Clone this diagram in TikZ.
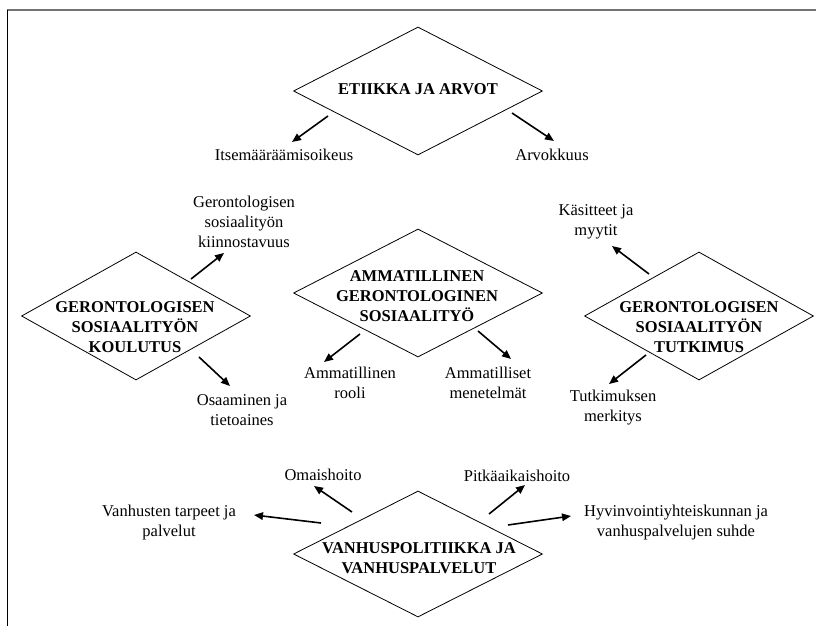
\documentclass[tikz,border=0pt]{standalone}
\usepackage{fontspec}
\setmainfont{Liberation Serif}
\usetikzlibrary{shapes.geometric,arrows.meta}
\tikzset{
  dia/.style={draw, shape=diamond, inner sep=0pt, line width=0.8pt},
  lbl/.style={font=\fontsize{16.5}{20}\selectfont, align=center, inner sep=0pt},
  ttl/.style={font=\fontsize{16.5}{20}\selectfont\bfseries, align=center, inner sep=0pt},
  arr/.style={line width=1.6pt, -{Triangle[length=9pt,width=7.5pt]}, shorten >=0pt}
}
\begin{document}
\begin{tikzpicture}[x=1pt,y=-1pt]
\useasboundingbox (0,0) rectangle (816,626);
% frame
\coordinate (fc) at (7,10);
\coordinate (fr) at (816,10);
\coordinate (fb) at (7,626);
\draw[black!55, line width=1.6pt] (fc) -- (fr);
\draw[black, line width=0.8pt] (fc) -- (fb);

% diamonds
\node[dia, minimum width=249pt, minimum height=128pt] (det) at (418,91) {};
\node[dia, minimum width=229pt, minimum height=128pt] (dko) at (136,316) {};
\node[dia, minimum width=249pt, minimum height=128pt] (dam) at (418,293) {};
\node[dia, minimum width=229pt, minimum height=128pt] (dtu) at (699,316) {};
\node[dia, minimum width=249pt, minimum height=126pt] (dva) at (418,554) {};

% titles
\node[ttl] (tet) at (418,89) {ETIIKKA JA ARVOT};
\node[ttl] (tko) at (135,327) {GERONTOLOGISEN\\SOSIAALITYÖN\\KOULUTUS};
\node[ttl] (tam) at (417,296) {AMMATILLINEN\\GERONTOLOGINEN\\SOSIAALITYÖ};
\node[ttl] (ttu) at (699,327) {GERONTOLOGISEN\\SOSIAALITYÖN\\TUTKIMUS};
\node[ttl] (tva) at (419,558) {VANHUSPOLITIIKKA JA\\VANHUSPALVELUT};

% labels
\node[lbl] (l1) at (284,155) {Itsemääräämisoikeus};
\node[lbl] (l2) at (552,155) {Arvokkuus};
\node[lbl] (l3) at (244,222) {Gerontologisen\\sosiaalityön\\kiinnostavuus};
\node[lbl] (l4) at (242,410) {Osaaminen ja\\tietoaines};
\node[lbl] (l5) at (350,383) {Ammatillinen\\rooli};
\node[lbl] (l6) at (488,383) {Ammatilliset\\menetelmät};
\node[lbl] (l7) at (596,222) {Käsitteet ja\\myytit};
\node[lbl] (l8) at (613,408) {Tutkimuksen\\merkitys};
\node[lbl] (l9) at (323,475) {Omaishoito};
\node[lbl] (l10) at (517,476) {Pitkäaikaishoito};
\node[lbl] (l11) at (169,523) {Vanhusten tarpeet ja\\palvelut};
\node[lbl] (l12) at (676,523) {Hyvinvointiyhteiskunnan ja\\vanhuspalvelujen suhde};

% arrow ends
\coordinate (a1s) at (328,116); \coordinate (a1e) at (292,142);
\coordinate (a2s) at (512,113); \coordinate (a2e) at (554,141);
\coordinate (a3s) at (191,279); \coordinate (a3e) at (224,253);
\coordinate (a4s) at (199,357); \coordinate (a4e) at (230,386);
\coordinate (a5s) at (360,334); \coordinate (a5e) at (324,362);
\coordinate (a6s) at (478,331); \coordinate (a6e) at (511,359);
\coordinate (a7s) at (649,274); \coordinate (a7e) at (612,246);
\coordinate (a8s) at (646,355); \coordinate (a8e) at (609,384);
\coordinate (a9s) at (352,512); \coordinate (a9e) at (314,486);
\coordinate (a10s) at (321,523); \coordinate (a10e) at (254,515);
\coordinate (a11s) at (489,514); \coordinate (a11e) at (525,485);
\coordinate (a12s) at (508,525); \coordinate (a12e) at (571,516);

\foreach \i in {1,...,12} \draw[arr] (a\i s) -- (a\i e);
\end{tikzpicture}
\end{document}
